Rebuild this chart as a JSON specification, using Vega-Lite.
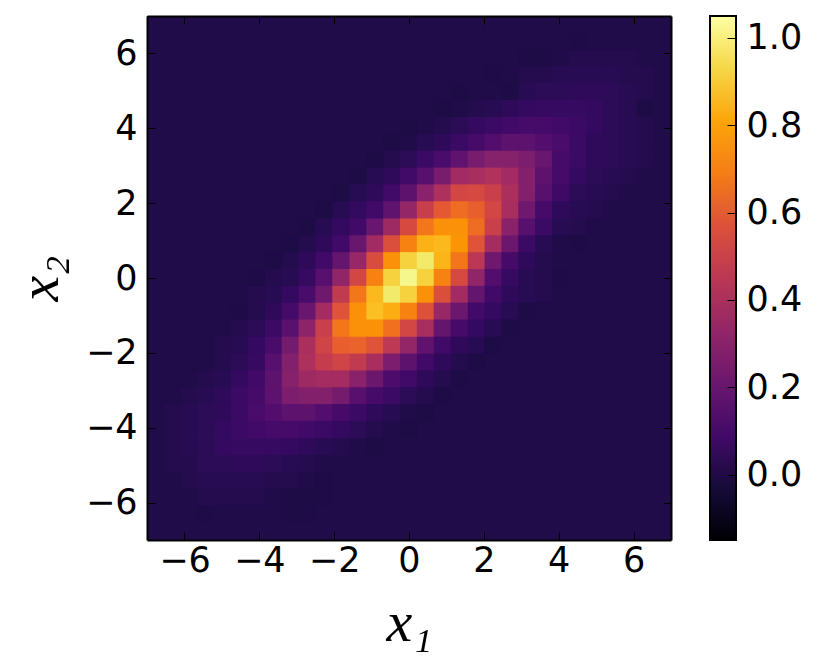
{"$schema":"https://vega.github.io/schema/vega-lite/v6.json","background":"white","padding":{"left":11,"top":15,"right":0,"bottom":0},
"config":{"view":{"stroke":null},"axis":{"labelFont":"DejaVu Sans","titleFont":"Liberation Serif","grid":false,"labelColor":"#000","titleColor":"#000","tickColor":"#000","domainColor":"#000"}},
"hconcat":[{"width":524,"height":524,
"data":{"values":[
{"x":-6.77,"y":6.77,"v":0},{"x":-6.32,"y":6.77,"v":0},{"x":-5.87,"y":6.77,"v":0},{"x":-5.42,"y":6.77,"v":0},{"x":-4.97,"y":6.77,"v":0},{"x":-4.52,"y":6.77,"v":0},{"x":-4.06,"y":6.77,"v":0},{"x":-3.61,"y":6.77,"v":0},{"x":-3.16,"y":6.77,"v":0},{"x":-2.71,"y":6.77,"v":0},{"x":-2.26,"y":6.77,"v":0},{"x":-1.81,"y":6.77,"v":0},{"x":-1.35,"y":6.77,"v":0},{"x":-0.9,"y":6.77,"v":0},{"x":-0.45,"y":6.77,"v":0},{"x":0,"y":6.77,"v":0},{"x":0.45,"y":6.77,"v":0},{"x":0.9,"y":6.77,"v":0},{"x":1.35,"y":6.77,"v":0},{"x":1.81,"y":6.77,"v":0},{"x":2.26,"y":6.77,"v":0},{"x":2.71,"y":6.77,"v":0},{"x":3.16,"y":6.77,"v":0},{"x":3.61,"y":6.77,"v":0},{"x":4.06,"y":6.77,"v":0},{"x":4.52,"y":6.77,"v":0},{"x":4.97,"y":6.77,"v":0},{"x":5.42,"y":6.77,"v":0},{"x":5.87,"y":6.77,"v":0},{"x":6.32,"y":6.77,"v":0},{"x":6.77,"y":6.77,"v":0},
{"x":-6.77,"y":6.32,"v":0},{"x":-6.32,"y":6.32,"v":0},{"x":-5.87,"y":6.32,"v":0},{"x":-5.42,"y":6.32,"v":0},{"x":-4.97,"y":6.32,"v":0},{"x":-4.52,"y":6.32,"v":0},{"x":-4.06,"y":6.32,"v":0},{"x":-3.61,"y":6.32,"v":0},{"x":-3.16,"y":6.32,"v":0},{"x":-2.71,"y":6.32,"v":0},{"x":-2.26,"y":6.32,"v":0},{"x":-1.81,"y":6.32,"v":0},{"x":-1.35,"y":6.32,"v":0},{"x":-0.9,"y":6.32,"v":0},{"x":-0.45,"y":6.32,"v":0},{"x":0,"y":6.32,"v":0},{"x":0.45,"y":6.32,"v":0},{"x":0.9,"y":6.32,"v":0},{"x":1.35,"y":6.32,"v":0},{"x":1.81,"y":6.32,"v":0},{"x":2.26,"y":6.32,"v":0},{"x":2.71,"y":6.32,"v":0},{"x":3.16,"y":6.32,"v":0},{"x":3.61,"y":6.32,"v":0},{"x":4.06,"y":6.32,"v":0},{"x":4.52,"y":6.32,"v":-0.01},{"x":4.97,"y":6.32,"v":0},{"x":5.42,"y":6.32,"v":0},{"x":5.87,"y":6.32,"v":0},{"x":6.32,"y":6.32,"v":0},{"x":6.77,"y":6.32,"v":0},
{"x":-6.77,"y":5.87,"v":0},{"x":-6.32,"y":5.87,"v":0},{"x":-5.87,"y":5.87,"v":0},{"x":-5.42,"y":5.87,"v":0},{"x":-4.97,"y":5.87,"v":0},{"x":-4.52,"y":5.87,"v":0},{"x":-4.06,"y":5.87,"v":0},{"x":-3.61,"y":5.87,"v":0},{"x":-3.16,"y":5.87,"v":0},{"x":-2.71,"y":5.87,"v":0},{"x":-2.26,"y":5.87,"v":0},{"x":-1.81,"y":5.87,"v":0},{"x":-1.35,"y":5.87,"v":0},{"x":-0.9,"y":5.87,"v":0},{"x":-0.45,"y":5.87,"v":0},{"x":0,"y":5.87,"v":0},{"x":0.45,"y":5.87,"v":0},{"x":0.9,"y":5.87,"v":0},{"x":1.35,"y":5.87,"v":0},{"x":1.81,"y":5.87,"v":0},{"x":2.26,"y":5.87,"v":0},{"x":2.71,"y":5.87,"v":0},{"x":3.16,"y":5.87,"v":-0.01},{"x":3.61,"y":5.87,"v":-0.01},{"x":4.06,"y":5.87,"v":0},{"x":4.52,"y":5.87,"v":0.01},{"x":4.97,"y":5.87,"v":0.01},{"x":5.42,"y":5.87,"v":0.01},{"x":5.87,"y":5.87,"v":0.01},{"x":6.32,"y":5.87,"v":0},{"x":6.77,"y":5.87,"v":0},
{"x":-6.77,"y":5.42,"v":0},{"x":-6.32,"y":5.42,"v":0},{"x":-5.87,"y":5.42,"v":0},{"x":-5.42,"y":5.42,"v":0},{"x":-4.97,"y":5.42,"v":0},{"x":-4.52,"y":5.42,"v":0},{"x":-4.06,"y":5.42,"v":0},{"x":-3.61,"y":5.42,"v":0},{"x":-3.16,"y":5.42,"v":0},{"x":-2.71,"y":5.42,"v":0},{"x":-2.26,"y":5.42,"v":0},{"x":-1.81,"y":5.42,"v":0},{"x":-1.35,"y":5.42,"v":0},{"x":-0.9,"y":5.42,"v":0},{"x":-0.45,"y":5.42,"v":0},{"x":0,"y":5.42,"v":0},{"x":0.45,"y":5.42,"v":0},{"x":0.9,"y":5.42,"v":0},{"x":1.35,"y":5.42,"v":0},{"x":1.81,"y":5.42,"v":0},{"x":2.26,"y":5.42,"v":-0.01},{"x":2.71,"y":5.42,"v":0},{"x":3.16,"y":5.42,"v":0.01},{"x":3.61,"y":5.42,"v":0.01},{"x":4.06,"y":5.42,"v":0.02},{"x":4.52,"y":5.42,"v":0.02},{"x":4.97,"y":5.42,"v":0.02},{"x":5.42,"y":5.42,"v":0.02},{"x":5.87,"y":5.42,"v":0.01},{"x":6.32,"y":5.42,"v":0.01},{"x":6.77,"y":5.42,"v":0},
{"x":-6.77,"y":4.97,"v":0},{"x":-6.32,"y":4.97,"v":0},{"x":-5.87,"y":4.97,"v":0},{"x":-5.42,"y":4.97,"v":0},{"x":-4.97,"y":4.97,"v":0},{"x":-4.52,"y":4.97,"v":0},{"x":-4.06,"y":4.97,"v":0},{"x":-3.61,"y":4.97,"v":0},{"x":-3.16,"y":4.97,"v":0},{"x":-2.71,"y":4.97,"v":0},{"x":-2.26,"y":4.97,"v":0},{"x":-1.81,"y":4.97,"v":0},{"x":-1.35,"y":4.97,"v":0},{"x":-0.9,"y":4.97,"v":0},{"x":-0.45,"y":4.97,"v":0},{"x":0,"y":4.97,"v":0},{"x":0.45,"y":4.97,"v":0},{"x":0.9,"y":4.97,"v":0},{"x":1.35,"y":4.97,"v":-0.01},{"x":1.81,"y":4.97,"v":0},{"x":2.26,"y":4.97,"v":0},{"x":2.71,"y":4.97,"v":-0.01},{"x":3.16,"y":4.97,"v":0.02},{"x":3.61,"y":4.97,"v":0.03},{"x":4.06,"y":4.97,"v":0.03},{"x":4.52,"y":4.97,"v":0.04},{"x":4.97,"y":4.97,"v":0.04},{"x":5.42,"y":4.97,"v":0.03},{"x":5.87,"y":4.97,"v":0.02},{"x":6.32,"y":4.97,"v":0.01},{"x":6.77,"y":4.97,"v":0},
{"x":-6.77,"y":4.52,"v":0},{"x":-6.32,"y":4.52,"v":0},{"x":-5.87,"y":4.52,"v":0},{"x":-5.42,"y":4.52,"v":0},{"x":-4.97,"y":4.52,"v":0},{"x":-4.52,"y":4.52,"v":0},{"x":-4.06,"y":4.52,"v":0},{"x":-3.61,"y":4.52,"v":0},{"x":-3.16,"y":4.52,"v":0},{"x":-2.71,"y":4.52,"v":0},{"x":-2.26,"y":4.52,"v":0},{"x":-1.81,"y":4.52,"v":0},{"x":-1.35,"y":4.52,"v":0},{"x":-0.9,"y":4.52,"v":0},{"x":-0.45,"y":4.52,"v":0},{"x":0,"y":4.52,"v":0},{"x":0.45,"y":4.52,"v":0},{"x":0.9,"y":4.52,"v":-0.01},{"x":1.35,"y":4.52,"v":0},{"x":1.81,"y":4.52,"v":0.01},{"x":2.26,"y":4.52,"v":0.02},{"x":2.71,"y":4.52,"v":0.04},{"x":3.16,"y":4.52,"v":0.05},{"x":3.61,"y":4.52,"v":0.06},{"x":4.06,"y":4.52,"v":0.06},{"x":4.52,"y":4.52,"v":0.06},{"x":4.97,"y":4.52,"v":0.05},{"x":5.42,"y":4.52,"v":0.03},{"x":5.87,"y":4.52,"v":0.02},{"x":6.32,"y":4.52,"v":-0.01},{"x":6.77,"y":4.52,"v":0},
{"x":-6.77,"y":4.06,"v":0},{"x":-6.32,"y":4.06,"v":0},{"x":-5.87,"y":4.06,"v":0},{"x":-5.42,"y":4.06,"v":0},{"x":-4.97,"y":4.06,"v":0},{"x":-4.52,"y":4.06,"v":0},{"x":-4.06,"y":4.06,"v":0},{"x":-3.61,"y":4.06,"v":0},{"x":-3.16,"y":4.06,"v":0},{"x":-2.71,"y":4.06,"v":0},{"x":-2.26,"y":4.06,"v":0},{"x":-1.81,"y":4.06,"v":0},{"x":-1.35,"y":4.06,"v":0},{"x":-0.9,"y":4.06,"v":0},{"x":-0.45,"y":4.06,"v":0},{"x":0,"y":4.06,"v":-0.01},{"x":0.45,"y":4.06,"v":0},{"x":0.9,"y":4.06,"v":0.01},{"x":1.35,"y":4.06,"v":0.03},{"x":1.81,"y":4.06,"v":0.05},{"x":2.26,"y":4.06,"v":0.07},{"x":2.71,"y":4.06,"v":0.09},{"x":3.16,"y":4.06,"v":0.1},{"x":3.61,"y":4.06,"v":0.1},{"x":4.06,"y":4.06,"v":0.09},{"x":4.52,"y":4.06,"v":0.07},{"x":4.97,"y":4.06,"v":0.05},{"x":5.42,"y":4.06,"v":0.03},{"x":5.87,"y":4.06,"v":0.02},{"x":6.32,"y":4.06,"v":0.01},{"x":6.77,"y":4.06,"v":0},
{"x":-6.77,"y":3.61,"v":0},{"x":-6.32,"y":3.61,"v":0},{"x":-5.87,"y":3.61,"v":0},{"x":-5.42,"y":3.61,"v":0},{"x":-4.97,"y":3.61,"v":0},{"x":-4.52,"y":3.61,"v":0},{"x":-4.06,"y":3.61,"v":0},{"x":-3.61,"y":3.61,"v":0},{"x":-3.16,"y":3.61,"v":0},{"x":-2.71,"y":3.61,"v":0},{"x":-2.26,"y":3.61,"v":0},{"x":-1.81,"y":3.61,"v":0},{"x":-1.35,"y":3.61,"v":0},{"x":-0.9,"y":3.61,"v":0},{"x":-0.45,"y":3.61,"v":-0.01},{"x":0,"y":3.61,"v":0},{"x":0.45,"y":3.61,"v":0.02},{"x":0.9,"y":3.61,"v":0.04},{"x":1.35,"y":3.61,"v":0.07},{"x":1.81,"y":3.61,"v":0.1},{"x":2.26,"y":3.61,"v":0.14},{"x":2.71,"y":3.61,"v":0.17},{"x":3.16,"y":3.61,"v":0.17},{"x":3.61,"y":3.61,"v":0.14},{"x":4.06,"y":3.61,"v":0.11},{"x":4.52,"y":3.61,"v":0.07},{"x":4.97,"y":3.61,"v":0.04},{"x":5.42,"y":3.61,"v":0.03},{"x":5.87,"y":3.61,"v":0.02},{"x":6.32,"y":3.61,"v":0.01},{"x":6.77,"y":3.61,"v":0},
{"x":-6.77,"y":3.16,"v":0},{"x":-6.32,"y":3.16,"v":0},{"x":-5.87,"y":3.16,"v":0},{"x":-5.42,"y":3.16,"v":0},{"x":-4.97,"y":3.16,"v":0},{"x":-4.52,"y":3.16,"v":0},{"x":-4.06,"y":3.16,"v":0},{"x":-3.61,"y":3.16,"v":0},{"x":-3.16,"y":3.16,"v":0},{"x":-2.71,"y":3.16,"v":0},{"x":-2.26,"y":3.16,"v":0},{"x":-1.81,"y":3.16,"v":0},{"x":-1.35,"y":3.16,"v":0},{"x":-0.9,"y":3.16,"v":-0.01},{"x":-0.45,"y":3.16,"v":0.01},{"x":0,"y":3.16,"v":0.03},{"x":0.45,"y":3.16,"v":0.07},{"x":0.9,"y":3.16,"v":0.11},{"x":1.35,"y":3.16,"v":0.18},{"x":1.81,"y":3.16,"v":0.25},{"x":2.26,"y":3.16,"v":0.29},{"x":2.71,"y":3.16,"v":0.29},{"x":3.16,"y":3.16,"v":0.26},{"x":3.61,"y":3.16,"v":0.2},{"x":4.06,"y":3.16,"v":0.1},{"x":4.52,"y":3.16,"v":0.07},{"x":4.97,"y":3.16,"v":0.04},{"x":5.42,"y":3.16,"v":0.03},{"x":5.87,"y":3.16,"v":0.02},{"x":6.32,"y":3.16,"v":0.01},{"x":6.77,"y":3.16,"v":0},
{"x":-6.77,"y":2.71,"v":0},{"x":-6.32,"y":2.71,"v":0},{"x":-5.87,"y":2.71,"v":0},{"x":-5.42,"y":2.71,"v":0},{"x":-4.97,"y":2.71,"v":0},{"x":-4.52,"y":2.71,"v":0},{"x":-4.06,"y":2.71,"v":0},{"x":-3.61,"y":2.71,"v":0},{"x":-3.16,"y":2.71,"v":0},{"x":-2.71,"y":2.71,"v":0},{"x":-2.26,"y":2.71,"v":0},{"x":-1.81,"y":2.71,"v":0},{"x":-1.35,"y":2.71,"v":-0.01},{"x":-0.9,"y":2.71,"v":0.02},{"x":-0.45,"y":2.71,"v":0.04},{"x":0,"y":2.71,"v":0.09},{"x":0.45,"y":2.71,"v":0.15},{"x":0.9,"y":2.71,"v":0.25},{"x":1.35,"y":2.71,"v":0.37},{"x":1.81,"y":2.71,"v":0.39},{"x":2.26,"y":2.71,"v":0.42},{"x":2.71,"y":2.71,"v":0.37},{"x":3.16,"y":2.71,"v":0.28},{"x":3.61,"y":2.71,"v":0.17},{"x":4.06,"y":2.71,"v":0.1},{"x":4.52,"y":2.71,"v":0.05},{"x":4.97,"y":2.71,"v":0.03},{"x":5.42,"y":2.71,"v":0.02},{"x":5.87,"y":2.71,"v":0.01},{"x":6.32,"y":2.71,"v":0},{"x":6.77,"y":2.71,"v":0},
{"x":-6.77,"y":2.26,"v":0},{"x":-6.32,"y":2.26,"v":0},{"x":-5.87,"y":2.26,"v":0},{"x":-5.42,"y":2.26,"v":0},{"x":-4.97,"y":2.26,"v":0},{"x":-4.52,"y":2.26,"v":0},{"x":-4.06,"y":2.26,"v":0},{"x":-3.61,"y":2.26,"v":0},{"x":-3.16,"y":2.26,"v":0},{"x":-2.71,"y":2.26,"v":0},{"x":-2.26,"y":2.26,"v":0},{"x":-1.81,"y":2.26,"v":-0.01},{"x":-1.35,"y":2.26,"v":0.02},{"x":-0.9,"y":2.26,"v":0.04},{"x":-0.45,"y":2.26,"v":0.09},{"x":0,"y":2.26,"v":0.17},{"x":0.45,"y":2.26,"v":0.3},{"x":0.9,"y":2.26,"v":0.41},{"x":1.35,"y":2.26,"v":0.53},{"x":1.81,"y":2.26,"v":0.54},{"x":2.26,"y":2.26,"v":0.5},{"x":2.71,"y":2.26,"v":0.4},{"x":3.16,"y":2.26,"v":0.28},{"x":3.61,"y":2.26,"v":0.15},{"x":4.06,"y":2.26,"v":0.08},{"x":4.52,"y":2.26,"v":0.03},{"x":4.97,"y":2.26,"v":0.02},{"x":5.42,"y":2.26,"v":0.01},{"x":5.87,"y":2.26,"v":0},{"x":6.32,"y":2.26,"v":0},{"x":6.77,"y":2.26,"v":0},
{"x":-6.77,"y":1.81,"v":0},{"x":-6.32,"y":1.81,"v":0},{"x":-5.87,"y":1.81,"v":0},{"x":-5.42,"y":1.81,"v":0},{"x":-4.97,"y":1.81,"v":0},{"x":-4.52,"y":1.81,"v":0},{"x":-4.06,"y":1.81,"v":0},{"x":-3.61,"y":1.81,"v":0},{"x":-3.16,"y":1.81,"v":0},{"x":-2.71,"y":1.81,"v":0},{"x":-2.26,"y":1.81,"v":-0.01},{"x":-1.81,"y":1.81,"v":0.02},{"x":-1.35,"y":1.81,"v":0.05},{"x":-0.9,"y":1.81,"v":0.09},{"x":-0.45,"y":1.81,"v":0.18},{"x":0,"y":1.81,"v":0.33},{"x":0.45,"y":1.81,"v":0.49},{"x":0.9,"y":1.81,"v":0.6},{"x":1.35,"y":1.81,"v":0.66},{"x":1.81,"y":1.81,"v":0.62},{"x":2.26,"y":1.81,"v":0.53},{"x":2.71,"y":1.81,"v":0.39},{"x":3.16,"y":1.81,"v":0.22},{"x":3.61,"y":1.81,"v":0.1},{"x":4.06,"y":1.81,"v":0.04},{"x":4.52,"y":1.81,"v":0.02},{"x":4.97,"y":1.81,"v":0.01},{"x":5.42,"y":1.81,"v":0},{"x":5.87,"y":1.81,"v":0},{"x":6.32,"y":1.81,"v":0},{"x":6.77,"y":1.81,"v":0},
{"x":-6.77,"y":1.35,"v":0},{"x":-6.32,"y":1.35,"v":0},{"x":-5.87,"y":1.35,"v":0},{"x":-5.42,"y":1.35,"v":0},{"x":-4.97,"y":1.35,"v":0},{"x":-4.52,"y":1.35,"v":0},{"x":-4.06,"y":1.35,"v":0},{"x":-3.61,"y":1.35,"v":0},{"x":-3.16,"y":1.35,"v":0},{"x":-2.71,"y":1.35,"v":-0.01},{"x":-2.26,"y":1.35,"v":0.02},{"x":-1.81,"y":1.35,"v":0.05},{"x":-1.35,"y":1.35,"v":0.09},{"x":-0.9,"y":1.35,"v":0.2},{"x":-0.45,"y":1.35,"v":0.36},{"x":0,"y":1.35,"v":0.54},{"x":0.45,"y":1.35,"v":0.69},{"x":0.9,"y":1.35,"v":0.76},{"x":1.35,"y":1.35,"v":0.76},{"x":1.81,"y":1.35,"v":0.66},{"x":2.26,"y":1.35,"v":0.5},{"x":2.71,"y":1.35,"v":0.3},{"x":3.16,"y":1.35,"v":0.15},{"x":3.61,"y":1.35,"v":0.07},{"x":4.06,"y":1.35,"v":0.02},{"x":4.52,"y":1.35,"v":0.01},{"x":4.97,"y":1.35,"v":0},{"x":5.42,"y":1.35,"v":0},{"x":5.87,"y":1.35,"v":0},{"x":6.32,"y":1.35,"v":0},{"x":6.77,"y":1.35,"v":0},
{"x":-6.77,"y":0.9,"v":0},{"x":-6.32,"y":0.9,"v":0},{"x":-5.87,"y":0.9,"v":0},{"x":-5.42,"y":0.9,"v":0},{"x":-4.97,"y":0.9,"v":0},{"x":-4.52,"y":0.9,"v":0},{"x":-4.06,"y":0.9,"v":0},{"x":-3.61,"y":0.9,"v":0},{"x":-3.16,"y":0.9,"v":-0.01},{"x":-2.71,"y":0.9,"v":0.01},{"x":-2.26,"y":0.9,"v":0.04},{"x":-1.81,"y":0.9,"v":0.09},{"x":-1.35,"y":0.9,"v":0.2},{"x":-0.9,"y":0.9,"v":0.37},{"x":-0.45,"y":0.9,"v":0.56},{"x":0,"y":0.9,"v":0.72},{"x":0.45,"y":0.9,"v":0.84},{"x":0.9,"y":0.9,"v":0.86},{"x":1.35,"y":0.9,"v":0.77},{"x":1.81,"y":0.9,"v":0.58},{"x":2.26,"y":0.9,"v":0.38},{"x":2.71,"y":0.9,"v":0.21},{"x":3.16,"y":0.9,"v":0.07},{"x":3.61,"y":0.9,"v":0.02},{"x":4.06,"y":0.9,"v":0},{"x":4.52,"y":0.9,"v":-0.01},{"x":4.97,"y":0.9,"v":0},{"x":5.42,"y":0.9,"v":0},{"x":5.87,"y":0.9,"v":0},{"x":6.32,"y":0.9,"v":0},{"x":6.77,"y":0.9,"v":0},
{"x":-6.77,"y":0.45,"v":0},{"x":-6.32,"y":0.45,"v":0},{"x":-5.87,"y":0.45,"v":0},{"x":-5.42,"y":0.45,"v":0},{"x":-4.97,"y":0.45,"v":0},{"x":-4.52,"y":0.45,"v":0},{"x":-4.06,"y":0.45,"v":0},{"x":-3.61,"y":0.45,"v":-0.01},{"x":-3.16,"y":0.45,"v":0.01},{"x":-2.71,"y":0.45,"v":0.04},{"x":-2.26,"y":0.45,"v":0.09},{"x":-1.81,"y":0.45,"v":0.19},{"x":-1.35,"y":0.45,"v":0.34},{"x":-0.9,"y":0.45,"v":0.55},{"x":-0.45,"y":0.45,"v":0.76},{"x":0,"y":0.45,"v":0.92},{"x":0.45,"y":0.45,"v":0.98},{"x":0.9,"y":0.45,"v":0.85},{"x":1.35,"y":0.45,"v":0.69},{"x":1.81,"y":0.45,"v":0.45},{"x":2.26,"y":0.45,"v":0.22},{"x":2.71,"y":0.45,"v":0.1},{"x":3.16,"y":0.45,"v":0.04},{"x":3.61,"y":0.45,"v":0.01},{"x":4.06,"y":0.45,"v":0},{"x":4.52,"y":0.45,"v":0},{"x":4.97,"y":0.45,"v":0},{"x":5.42,"y":0.45,"v":0},{"x":5.87,"y":0.45,"v":0},{"x":6.32,"y":0.45,"v":0},{"x":6.77,"y":0.45,"v":0},
{"x":-6.77,"y":0,"v":0},{"x":-6.32,"y":0,"v":0},{"x":-5.87,"y":0,"v":0},{"x":-5.42,"y":0,"v":0},{"x":-4.97,"y":0,"v":0},{"x":-4.52,"y":0,"v":0},{"x":-4.06,"y":0,"v":-0.01},{"x":-3.61,"y":0,"v":0.01},{"x":-3.16,"y":0,"v":0.02},{"x":-2.71,"y":0,"v":0.06},{"x":-2.26,"y":0,"v":0.15},{"x":-1.81,"y":0,"v":0.32},{"x":-1.35,"y":0,"v":0.53},{"x":-0.9,"y":0,"v":0.72},{"x":-0.45,"y":0,"v":0.92},{"x":0,"y":0,"v":1.02},{"x":0.45,"y":0,"v":0.92},{"x":0.9,"y":0,"v":0.72},{"x":1.35,"y":0,"v":0.54},{"x":1.81,"y":0,"v":0.32},{"x":2.26,"y":0,"v":0.14},{"x":2.71,"y":0,"v":0.06},{"x":3.16,"y":0,"v":0.02},{"x":3.61,"y":0,"v":0.01},{"x":4.06,"y":0,"v":-0.01},{"x":4.52,"y":0,"v":0},{"x":4.97,"y":0,"v":0},{"x":5.42,"y":0,"v":0},{"x":5.87,"y":0,"v":0},{"x":6.32,"y":0,"v":0},{"x":6.77,"y":0,"v":0},
{"x":-6.77,"y":-0.45,"v":0},{"x":-6.32,"y":-0.45,"v":0},{"x":-5.87,"y":-0.45,"v":0},{"x":-5.42,"y":-0.45,"v":0},{"x":-4.97,"y":-0.45,"v":0},{"x":-4.52,"y":-0.45,"v":0},{"x":-4.06,"y":-0.45,"v":0.01},{"x":-3.61,"y":-0.45,"v":0.02},{"x":-3.16,"y":-0.45,"v":0.05},{"x":-2.71,"y":-0.45,"v":0.11},{"x":-2.26,"y":-0.45,"v":0.22},{"x":-1.81,"y":-0.45,"v":0.47},{"x":-1.35,"y":-0.45,"v":0.69},{"x":-0.9,"y":-0.45,"v":0.86},{"x":-0.45,"y":-0.45,"v":0.98},{"x":0,"y":-0.45,"v":0.92},{"x":0.45,"y":-0.45,"v":0.76},{"x":0.9,"y":-0.45,"v":0.56},{"x":1.35,"y":-0.45,"v":0.37},{"x":1.81,"y":-0.45,"v":0.19},{"x":2.26,"y":-0.45,"v":0.09},{"x":2.71,"y":-0.45,"v":0.04},{"x":3.16,"y":-0.45,"v":0.02},{"x":3.61,"y":-0.45,"v":0.01},{"x":4.06,"y":-0.45,"v":0},{"x":4.52,"y":-0.45,"v":0},{"x":4.97,"y":-0.45,"v":0},{"x":5.42,"y":-0.45,"v":0},{"x":5.87,"y":-0.45,"v":0},{"x":6.32,"y":-0.45,"v":0},{"x":6.77,"y":-0.45,"v":0},
{"x":-6.77,"y":-0.9,"v":0},{"x":-6.32,"y":-0.9,"v":0},{"x":-5.87,"y":-0.9,"v":0},{"x":-5.42,"y":-0.9,"v":0},{"x":-4.97,"y":-0.9,"v":0},{"x":-4.52,"y":-0.9,"v":-0.01},{"x":-4.06,"y":-0.9,"v":0.01},{"x":-3.61,"y":-0.9,"v":0.04},{"x":-3.16,"y":-0.9,"v":0.1},{"x":-2.71,"y":-0.9,"v":0.2},{"x":-2.26,"y":-0.9,"v":0.38},{"x":-1.81,"y":-0.9,"v":0.58},{"x":-1.35,"y":-0.9,"v":0.76},{"x":-0.9,"y":-0.9,"v":0.87},{"x":-0.45,"y":-0.9,"v":0.83},{"x":0,"y":-0.9,"v":0.72},{"x":0.45,"y":-0.9,"v":0.57},{"x":0.9,"y":-0.9,"v":0.34},{"x":1.35,"y":-0.9,"v":0.21},{"x":1.81,"y":-0.9,"v":0.09},{"x":2.26,"y":-0.9,"v":0.05},{"x":2.71,"y":-0.9,"v":0.02},{"x":3.16,"y":-0.9,"v":-0.01},{"x":3.61,"y":-0.9,"v":0},{"x":4.06,"y":-0.9,"v":0},{"x":4.52,"y":-0.9,"v":0},{"x":4.97,"y":-0.9,"v":0},{"x":5.42,"y":-0.9,"v":0},{"x":5.87,"y":-0.9,"v":0},{"x":6.32,"y":-0.9,"v":0},{"x":6.77,"y":-0.9,"v":0},
{"x":-6.77,"y":-1.35,"v":0},{"x":-6.32,"y":-1.35,"v":0},{"x":-5.87,"y":-1.35,"v":0},{"x":-5.42,"y":-1.35,"v":0},{"x":-4.97,"y":-1.35,"v":0},{"x":-4.52,"y":-1.35,"v":0.01},{"x":-4.06,"y":-1.35,"v":0.03},{"x":-3.61,"y":-1.35,"v":0.07},{"x":-3.16,"y":-1.35,"v":0.16},{"x":-2.71,"y":-1.35,"v":0.31},{"x":-2.26,"y":-1.35,"v":0.5},{"x":-1.81,"y":-1.35,"v":0.69},{"x":-1.35,"y":-1.35,"v":0.76},{"x":-0.9,"y":-1.35,"v":0.76},{"x":-0.45,"y":-1.35,"v":0.67},{"x":0,"y":-1.35,"v":0.53},{"x":0.45,"y":-1.35,"v":0.39},{"x":0.9,"y":-1.35,"v":0.19},{"x":1.35,"y":-1.35,"v":0.1},{"x":1.81,"y":-1.35,"v":0.05},{"x":2.26,"y":-1.35,"v":0.02},{"x":2.71,"y":-1.35,"v":-0.01},{"x":3.16,"y":-1.35,"v":0},{"x":3.61,"y":-1.35,"v":0},{"x":4.06,"y":-1.35,"v":0},{"x":4.52,"y":-1.35,"v":0},{"x":4.97,"y":-1.35,"v":0},{"x":5.42,"y":-1.35,"v":0},{"x":5.87,"y":-1.35,"v":0},{"x":6.32,"y":-1.35,"v":0},{"x":6.77,"y":-1.35,"v":0},
{"x":-6.77,"y":-1.81,"v":0},{"x":-6.32,"y":-1.81,"v":0},{"x":-5.87,"y":-1.81,"v":0},{"x":-5.42,"y":-1.81,"v":0},{"x":-4.97,"y":-1.81,"v":0.01},{"x":-4.52,"y":-1.81,"v":0.02},{"x":-4.06,"y":-1.81,"v":0.05},{"x":-3.61,"y":-1.81,"v":0.11},{"x":-3.16,"y":-1.81,"v":0.24},{"x":-2.71,"y":-1.81,"v":0.4},{"x":-2.26,"y":-1.81,"v":0.52},{"x":-1.81,"y":-1.81,"v":0.62},{"x":-1.35,"y":-1.81,"v":0.63},{"x":-0.9,"y":-1.81,"v":0.58},{"x":-0.45,"y":-1.81,"v":0.46},{"x":0,"y":-1.81,"v":0.33},{"x":0.45,"y":-1.81,"v":0.18},{"x":0.9,"y":-1.81,"v":0.09},{"x":1.35,"y":-1.81,"v":0.04},{"x":1.81,"y":-1.81,"v":0.02},{"x":2.26,"y":-1.81,"v":-0.01},{"x":2.71,"y":-1.81,"v":0},{"x":3.16,"y":-1.81,"v":0},{"x":3.61,"y":-1.81,"v":0},{"x":4.06,"y":-1.81,"v":0},{"x":4.52,"y":-1.81,"v":0},{"x":4.97,"y":-1.81,"v":0},{"x":5.42,"y":-1.81,"v":0},{"x":5.87,"y":-1.81,"v":0},{"x":6.32,"y":-1.81,"v":0},{"x":6.77,"y":-1.81,"v":0},
{"x":-6.77,"y":-2.26,"v":0},{"x":-6.32,"y":-2.26,"v":0},{"x":-5.87,"y":-2.26,"v":0},{"x":-5.42,"y":-2.26,"v":0},{"x":-4.97,"y":-2.26,"v":0.01},{"x":-4.52,"y":-2.26,"v":0.03},{"x":-4.06,"y":-2.26,"v":0.06},{"x":-3.61,"y":-2.26,"v":0.15},{"x":-3.16,"y":-2.26,"v":0.28},{"x":-2.71,"y":-2.26,"v":0.41},{"x":-2.26,"y":-2.26,"v":0.48},{"x":-1.81,"y":-2.26,"v":0.52},{"x":-1.35,"y":-2.26,"v":0.47},{"x":-0.9,"y":-2.26,"v":0.39},{"x":-0.45,"y":-2.26,"v":0.26},{"x":0,"y":-2.26,"v":0.17},{"x":0.45,"y":-2.26,"v":0.09},{"x":0.9,"y":-2.26,"v":0.04},{"x":1.35,"y":-2.26,"v":0.01},{"x":1.81,"y":-2.26,"v":-0.01},{"x":2.26,"y":-2.26,"v":0},{"x":2.71,"y":-2.26,"v":0},{"x":3.16,"y":-2.26,"v":0},{"x":3.61,"y":-2.26,"v":0},{"x":4.06,"y":-2.26,"v":0},{"x":4.52,"y":-2.26,"v":0},{"x":4.97,"y":-2.26,"v":0},{"x":5.42,"y":-2.26,"v":0},{"x":5.87,"y":-2.26,"v":0},{"x":6.32,"y":-2.26,"v":0},{"x":6.77,"y":-2.26,"v":0},
{"x":-6.77,"y":-2.71,"v":0},{"x":-6.32,"y":-2.71,"v":0},{"x":-5.87,"y":-2.71,"v":0},{"x":-5.42,"y":-2.71,"v":0.01},{"x":-4.97,"y":-2.71,"v":0.02},{"x":-4.52,"y":-2.71,"v":0.05},{"x":-4.06,"y":-2.71,"v":0.09},{"x":-3.61,"y":-2.71,"v":0.17},{"x":-3.16,"y":-2.71,"v":0.29},{"x":-2.71,"y":-2.71,"v":0.36},{"x":-2.26,"y":-2.71,"v":0.38},{"x":-1.81,"y":-2.71,"v":0.38},{"x":-1.35,"y":-2.71,"v":0.3},{"x":-0.9,"y":-2.71,"v":0.21},{"x":-0.45,"y":-2.71,"v":0.12},{"x":0,"y":-2.71,"v":0.09},{"x":0.45,"y":-2.71,"v":0.04},{"x":0.9,"y":-2.71,"v":0.01},{"x":1.35,"y":-2.71,"v":-0.01},{"x":1.81,"y":-2.71,"v":0},{"x":2.26,"y":-2.71,"v":0},{"x":2.71,"y":-2.71,"v":0},{"x":3.16,"y":-2.71,"v":0},{"x":3.61,"y":-2.71,"v":0},{"x":4.06,"y":-2.71,"v":0},{"x":4.52,"y":-2.71,"v":0},{"x":4.97,"y":-2.71,"v":0},{"x":5.42,"y":-2.71,"v":0},{"x":5.87,"y":-2.71,"v":0},{"x":6.32,"y":-2.71,"v":0},{"x":6.77,"y":-2.71,"v":0},
{"x":-6.77,"y":-3.16,"v":0},{"x":-6.32,"y":-3.16,"v":0},{"x":-5.87,"y":-3.16,"v":0.01},{"x":-5.42,"y":-3.16,"v":0.02},{"x":-4.97,"y":-3.16,"v":0.04},{"x":-4.52,"y":-3.16,"v":0.07},{"x":-4.06,"y":-3.16,"v":0.1},{"x":-3.61,"y":-3.16,"v":0.17},{"x":-3.16,"y":-3.16,"v":0.26},{"x":-2.71,"y":-3.16,"v":0.28},{"x":-2.26,"y":-3.16,"v":0.28},{"x":-1.81,"y":-3.16,"v":0.24},{"x":-1.35,"y":-3.16,"v":0.15},{"x":-0.9,"y":-3.16,"v":0.1},{"x":-0.45,"y":-3.16,"v":0.07},{"x":0,"y":-3.16,"v":0.03},{"x":0.45,"y":-3.16,"v":0.01},{"x":0.9,"y":-3.16,"v":-0.01},{"x":1.35,"y":-3.16,"v":0},{"x":1.81,"y":-3.16,"v":0},{"x":2.26,"y":-3.16,"v":0},{"x":2.71,"y":-3.16,"v":0},{"x":3.16,"y":-3.16,"v":0},{"x":3.61,"y":-3.16,"v":0},{"x":4.06,"y":-3.16,"v":0},{"x":4.52,"y":-3.16,"v":0},{"x":4.97,"y":-3.16,"v":0},{"x":5.42,"y":-3.16,"v":0},{"x":5.87,"y":-3.16,"v":0},{"x":6.32,"y":-3.16,"v":0},{"x":6.77,"y":-3.16,"v":0},
{"x":-6.77,"y":-3.61,"v":0},{"x":-6.32,"y":-3.61,"v":0.01},{"x":-5.87,"y":-3.61,"v":0.02},{"x":-5.42,"y":-3.61,"v":0.03},{"x":-4.97,"y":-3.61,"v":0.04},{"x":-4.52,"y":-3.61,"v":0.07},{"x":-4.06,"y":-3.61,"v":0.11},{"x":-3.61,"y":-3.61,"v":0.14},{"x":-3.16,"y":-3.61,"v":0.17},{"x":-2.71,"y":-3.61,"v":0.17},{"x":-2.26,"y":-3.61,"v":0.14},{"x":-1.81,"y":-3.61,"v":0.1},{"x":-1.35,"y":-3.61,"v":0.07},{"x":-0.9,"y":-3.61,"v":0.04},{"x":-0.45,"y":-3.61,"v":0.02},{"x":0,"y":-3.61,"v":0},{"x":0.45,"y":-3.61,"v":-0.01},{"x":0.9,"y":-3.61,"v":0},{"x":1.35,"y":-3.61,"v":0},{"x":1.81,"y":-3.61,"v":0},{"x":2.26,"y":-3.61,"v":0},{"x":2.71,"y":-3.61,"v":0},{"x":3.16,"y":-3.61,"v":0},{"x":3.61,"y":-3.61,"v":0},{"x":4.06,"y":-3.61,"v":0},{"x":4.52,"y":-3.61,"v":0},{"x":4.97,"y":-3.61,"v":0},{"x":5.42,"y":-3.61,"v":0},{"x":5.87,"y":-3.61,"v":0},{"x":6.32,"y":-3.61,"v":0},{"x":6.77,"y":-3.61,"v":0},
{"x":-6.77,"y":-4.06,"v":0},{"x":-6.32,"y":-4.06,"v":0.01},{"x":-5.87,"y":-4.06,"v":0.02},{"x":-5.42,"y":-4.06,"v":0.03},{"x":-4.97,"y":-4.06,"v":0.05},{"x":-4.52,"y":-4.06,"v":0.07},{"x":-4.06,"y":-4.06,"v":0.09},{"x":-3.61,"y":-4.06,"v":0.1},{"x":-3.16,"y":-4.06,"v":0.1},{"x":-2.71,"y":-4.06,"v":0.09},{"x":-2.26,"y":-4.06,"v":0.07},{"x":-1.81,"y":-4.06,"v":0.05},{"x":-1.35,"y":-4.06,"v":0.03},{"x":-0.9,"y":-4.06,"v":0.01},{"x":-0.45,"y":-4.06,"v":0},{"x":0,"y":-4.06,"v":-0.01},{"x":0.45,"y":-4.06,"v":0},{"x":0.9,"y":-4.06,"v":0},{"x":1.35,"y":-4.06,"v":0},{"x":1.81,"y":-4.06,"v":0},{"x":2.26,"y":-4.06,"v":0},{"x":2.71,"y":-4.06,"v":0},{"x":3.16,"y":-4.06,"v":0},{"x":3.61,"y":-4.06,"v":0},{"x":4.06,"y":-4.06,"v":0},{"x":4.52,"y":-4.06,"v":0},{"x":4.97,"y":-4.06,"v":0},{"x":5.42,"y":-4.06,"v":0},{"x":5.87,"y":-4.06,"v":0},{"x":6.32,"y":-4.06,"v":0},{"x":6.77,"y":-4.06,"v":0},
{"x":-6.77,"y":-4.52,"v":0},{"x":-6.32,"y":-4.52,"v":0.01},{"x":-5.87,"y":-4.52,"v":0.02},{"x":-5.42,"y":-4.52,"v":0.03},{"x":-4.97,"y":-4.52,"v":0.05},{"x":-4.52,"y":-4.52,"v":0.06},{"x":-4.06,"y":-4.52,"v":0.06},{"x":-3.61,"y":-4.52,"v":0.06},{"x":-3.16,"y":-4.52,"v":0.05},{"x":-2.71,"y":-4.52,"v":0.04},{"x":-2.26,"y":-4.52,"v":0.02},{"x":-1.81,"y":-4.52,"v":0.01},{"x":-1.35,"y":-4.52,"v":0},{"x":-0.9,"y":-4.52,"v":-0.01},{"x":-0.45,"y":-4.52,"v":0},{"x":0,"y":-4.52,"v":0},{"x":0.45,"y":-4.52,"v":0},{"x":0.9,"y":-4.52,"v":0},{"x":1.35,"y":-4.52,"v":0},{"x":1.81,"y":-4.52,"v":0},{"x":2.26,"y":-4.52,"v":0},{"x":2.71,"y":-4.52,"v":0},{"x":3.16,"y":-4.52,"v":0},{"x":3.61,"y":-4.52,"v":0},{"x":4.06,"y":-4.52,"v":0},{"x":4.52,"y":-4.52,"v":0},{"x":4.97,"y":-4.52,"v":0},{"x":5.42,"y":-4.52,"v":0},{"x":5.87,"y":-4.52,"v":0},{"x":6.32,"y":-4.52,"v":0},{"x":6.77,"y":-4.52,"v":0},
{"x":-6.77,"y":-4.97,"v":0},{"x":-6.32,"y":-4.97,"v":0.01},{"x":-5.87,"y":-4.97,"v":0.01},{"x":-5.42,"y":-4.97,"v":0.03},{"x":-4.97,"y":-4.97,"v":0.03},{"x":-4.52,"y":-4.97,"v":0.04},{"x":-4.06,"y":-4.97,"v":0.04},{"x":-3.61,"y":-4.97,"v":0.03},{"x":-3.16,"y":-4.97,"v":0.02},{"x":-2.71,"y":-4.97,"v":0.01},{"x":-2.26,"y":-4.97,"v":0},{"x":-1.81,"y":-4.97,"v":0},{"x":-1.35,"y":-4.97,"v":0},{"x":-0.9,"y":-4.97,"v":0},{"x":-0.45,"y":-4.97,"v":0},{"x":0,"y":-4.97,"v":0},{"x":0.45,"y":-4.97,"v":0},{"x":0.9,"y":-4.97,"v":0},{"x":1.35,"y":-4.97,"v":0},{"x":1.81,"y":-4.97,"v":0},{"x":2.26,"y":-4.97,"v":0},{"x":2.71,"y":-4.97,"v":0},{"x":3.16,"y":-4.97,"v":0},{"x":3.61,"y":-4.97,"v":0},{"x":4.06,"y":-4.97,"v":0},{"x":4.52,"y":-4.97,"v":0},{"x":4.97,"y":-4.97,"v":0},{"x":5.42,"y":-4.97,"v":0},{"x":5.87,"y":-4.97,"v":0},{"x":6.32,"y":-4.97,"v":0},{"x":6.77,"y":-4.97,"v":0},
{"x":-6.77,"y":-5.42,"v":0},{"x":-6.32,"y":-5.42,"v":0},{"x":-5.87,"y":-5.42,"v":0.01},{"x":-5.42,"y":-5.42,"v":0.02},{"x":-4.97,"y":-5.42,"v":0.02},{"x":-4.52,"y":-5.42,"v":0.02},{"x":-4.06,"y":-5.42,"v":0.02},{"x":-3.61,"y":-5.42,"v":0.01},{"x":-3.16,"y":-5.42,"v":0.01},{"x":-2.71,"y":-5.42,"v":0},{"x":-2.26,"y":-5.42,"v":-0.01},{"x":-1.81,"y":-5.42,"v":0},{"x":-1.35,"y":-5.42,"v":0},{"x":-0.9,"y":-5.42,"v":0},{"x":-0.45,"y":-5.42,"v":0},{"x":0,"y":-5.42,"v":0},{"x":0.45,"y":-5.42,"v":0},{"x":0.9,"y":-5.42,"v":0},{"x":1.35,"y":-5.42,"v":0},{"x":1.81,"y":-5.42,"v":0},{"x":2.26,"y":-5.42,"v":0},{"x":2.71,"y":-5.42,"v":0},{"x":3.16,"y":-5.42,"v":0},{"x":3.61,"y":-5.42,"v":0},{"x":4.06,"y":-5.42,"v":0},{"x":4.52,"y":-5.42,"v":0},{"x":4.97,"y":-5.42,"v":0},{"x":5.42,"y":-5.42,"v":0},{"x":5.87,"y":-5.42,"v":0},{"x":6.32,"y":-5.42,"v":0},{"x":6.77,"y":-5.42,"v":0},
{"x":-6.77,"y":-5.87,"v":0},{"x":-6.32,"y":-5.87,"v":0},{"x":-5.87,"y":-5.87,"v":0},{"x":-5.42,"y":-5.87,"v":0.01},{"x":-4.97,"y":-5.87,"v":0.01},{"x":-4.52,"y":-5.87,"v":0.01},{"x":-4.06,"y":-5.87,"v":0.01},{"x":-3.61,"y":-5.87,"v":0},{"x":-3.16,"y":-5.87,"v":-0.01},{"x":-2.71,"y":-5.87,"v":-0.01},{"x":-2.26,"y":-5.87,"v":-0.01},{"x":-1.81,"y":-5.87,"v":0},{"x":-1.35,"y":-5.87,"v":0},{"x":-0.9,"y":-5.87,"v":0},{"x":-0.45,"y":-5.87,"v":0},{"x":0,"y":-5.87,"v":0},{"x":0.45,"y":-5.87,"v":0},{"x":0.9,"y":-5.87,"v":0},{"x":1.35,"y":-5.87,"v":0},{"x":1.81,"y":-5.87,"v":0},{"x":2.26,"y":-5.87,"v":0},{"x":2.71,"y":-5.87,"v":0},{"x":3.16,"y":-5.87,"v":0},{"x":3.61,"y":-5.87,"v":0},{"x":4.06,"y":-5.87,"v":0},{"x":4.52,"y":-5.87,"v":0},{"x":4.97,"y":-5.87,"v":0},{"x":5.42,"y":-5.87,"v":0},{"x":5.87,"y":-5.87,"v":0},{"x":6.32,"y":-5.87,"v":0},{"x":6.77,"y":-5.87,"v":0},
{"x":-6.77,"y":-6.32,"v":0},{"x":-6.32,"y":-6.32,"v":0},{"x":-5.87,"y":-6.32,"v":0},{"x":-5.42,"y":-6.32,"v":-0.01},{"x":-4.97,"y":-6.32,"v":0},{"x":-4.52,"y":-6.32,"v":0},{"x":-4.06,"y":-6.32,"v":0},{"x":-3.61,"y":-6.32,"v":0},{"x":-3.16,"y":-6.32,"v":-0.01},{"x":-2.71,"y":-6.32,"v":-0.01},{"x":-2.26,"y":-6.32,"v":0},{"x":-1.81,"y":-6.32,"v":0},{"x":-1.35,"y":-6.32,"v":0},{"x":-0.9,"y":-6.32,"v":0},{"x":-0.45,"y":-6.32,"v":0},{"x":0,"y":-6.32,"v":0},{"x":0.45,"y":-6.32,"v":0},{"x":0.9,"y":-6.32,"v":0},{"x":1.35,"y":-6.32,"v":0},{"x":1.81,"y":-6.32,"v":0},{"x":2.26,"y":-6.32,"v":0},{"x":2.71,"y":-6.32,"v":0},{"x":3.16,"y":-6.32,"v":0},{"x":3.61,"y":-6.32,"v":0},{"x":4.06,"y":-6.32,"v":0},{"x":4.52,"y":-6.32,"v":0},{"x":4.97,"y":-6.32,"v":0},{"x":5.42,"y":-6.32,"v":0},{"x":5.87,"y":-6.32,"v":0},{"x":6.32,"y":-6.32,"v":0},{"x":6.77,"y":-6.32,"v":0},
{"x":-6.77,"y":-6.77,"v":0},{"x":-6.32,"y":-6.77,"v":0},{"x":-5.87,"y":-6.77,"v":0},{"x":-5.42,"y":-6.77,"v":0},{"x":-4.97,"y":-6.77,"v":0},{"x":-4.52,"y":-6.77,"v":0},{"x":-4.06,"y":-6.77,"v":0},{"x":-3.61,"y":-6.77,"v":0},{"x":-3.16,"y":-6.77,"v":0},{"x":-2.71,"y":-6.77,"v":0},{"x":-2.26,"y":-6.77,"v":0},{"x":-1.81,"y":-6.77,"v":0},{"x":-1.35,"y":-6.77,"v":0},{"x":-0.9,"y":-6.77,"v":0},{"x":-0.45,"y":-6.77,"v":0},{"x":0,"y":-6.77,"v":0},{"x":0.45,"y":-6.77,"v":0},{"x":0.9,"y":-6.77,"v":0},{"x":1.35,"y":-6.77,"v":0},{"x":1.81,"y":-6.77,"v":0},{"x":2.26,"y":-6.77,"v":0},{"x":2.71,"y":-6.77,"v":0},{"x":3.16,"y":-6.77,"v":0},{"x":3.61,"y":-6.77,"v":0},{"x":4.06,"y":-6.77,"v":0},{"x":4.52,"y":-6.77,"v":0},{"x":4.97,"y":-6.77,"v":0},{"x":5.42,"y":-6.77,"v":0},{"x":5.87,"y":-6.77,"v":0},{"x":6.32,"y":-6.77,"v":0},{"x":6.77,"y":-6.77,"v":0}
]},
"layer":[{"mark":{"type":"rect","width":18,"height":18,"clip":true},"encoding":{
"x":{"field":"x","type":"quantitative","scale":{"domain":[-7,7],"nice":false,"zero":false},"axis":{"values":[-6,-4,-2,0,2,4,6],"tickSize":-8,"tickWidth":1,"labelFontSize":35,"labelPadding":11,"domainWidth":2,"zindex":1,"title":"x₁","titleFontSize":58,"titleFontStyle":"italic","titleFontWeight":"normal","titlePadding":16}},
"y":{"field":"y","type":"quantitative","scale":{"domain":[-7,7],"nice":false,"zero":false},"axis":{"values":[-6,-4,-2,0,2,4,6],"tickSize":-8,"tickWidth":1,"labelFontSize":35,"labelPadding":18,"domainWidth":2,"zindex":1,"title":"x₂","titleFontSize":58,"titleFontStyle":"italic","titleFontWeight":"normal","titlePadding":16}},
"fill":{"field":"v","type":"quantitative","scale":{"scheme":"inferno","domain":[-0.15,1.05]},"legend":null}}},
{"mark":{"type":"rect","width":1,"height":1,"opacity":0},"encoding":{
"x":{"field":"x","type":"quantitative","axis":{"orient":"top","values":[-6,-4,-2,0,2,4,6],"tickSize":-8,"labels":false,"title":null,"domainWidth":2,"zindex":1}},
"y":{"field":"y","type":"quantitative","axis":{"orient":"right","values":[-6,-4,-2,0,2,4,6],"tickSize":-8,"labels":false,"title":null,"domainWidth":2,"zindex":1}}}}],
"resolve":{"axis":{"x":"independent","y":"independent"}}},
{"width":26,"height":524,"data":{"values":[{"lo":-0.15,"hi":1.05}]},
"mark":{"type":"rect","stroke":"#000","strokeWidth":2,"fill":{"gradient":"linear","x1":0,"y1":1,"x2":0,"y2":0,"stops":[{"offset":0,"color":"#000004"},{"offset":0.1,"color":"#160b39"},{"offset":0.2,"color":"#420a68"},{"offset":0.3,"color":"#6a176e"},{"offset":0.4,"color":"#932667"},{"offset":0.5,"color":"#bb3754"},{"offset":0.6,"color":"#dd513a"},{"offset":0.7,"color":"#f57d15"},{"offset":0.8,"color":"#fca50a"},{"offset":0.9,"color":"#f6d746"},{"offset":1,"color":"#fcffa4"}]}},
"encoding":{"y":{"field":"lo","type":"quantitative","scale":{"domain":[-0.15,1.05],"nice":false,"zero":false},"axis":{"orient":"right","values":[0,0.2,0.4,0.6,0.8,1],"format":".1f","tickSize":-9,"tickWidth":1,"labelFontSize":35,"labelPadding":19,"domain":false,"zindex":1,"title":null}},"y2":{"field":"hi"}}}],
"spacing":37}
